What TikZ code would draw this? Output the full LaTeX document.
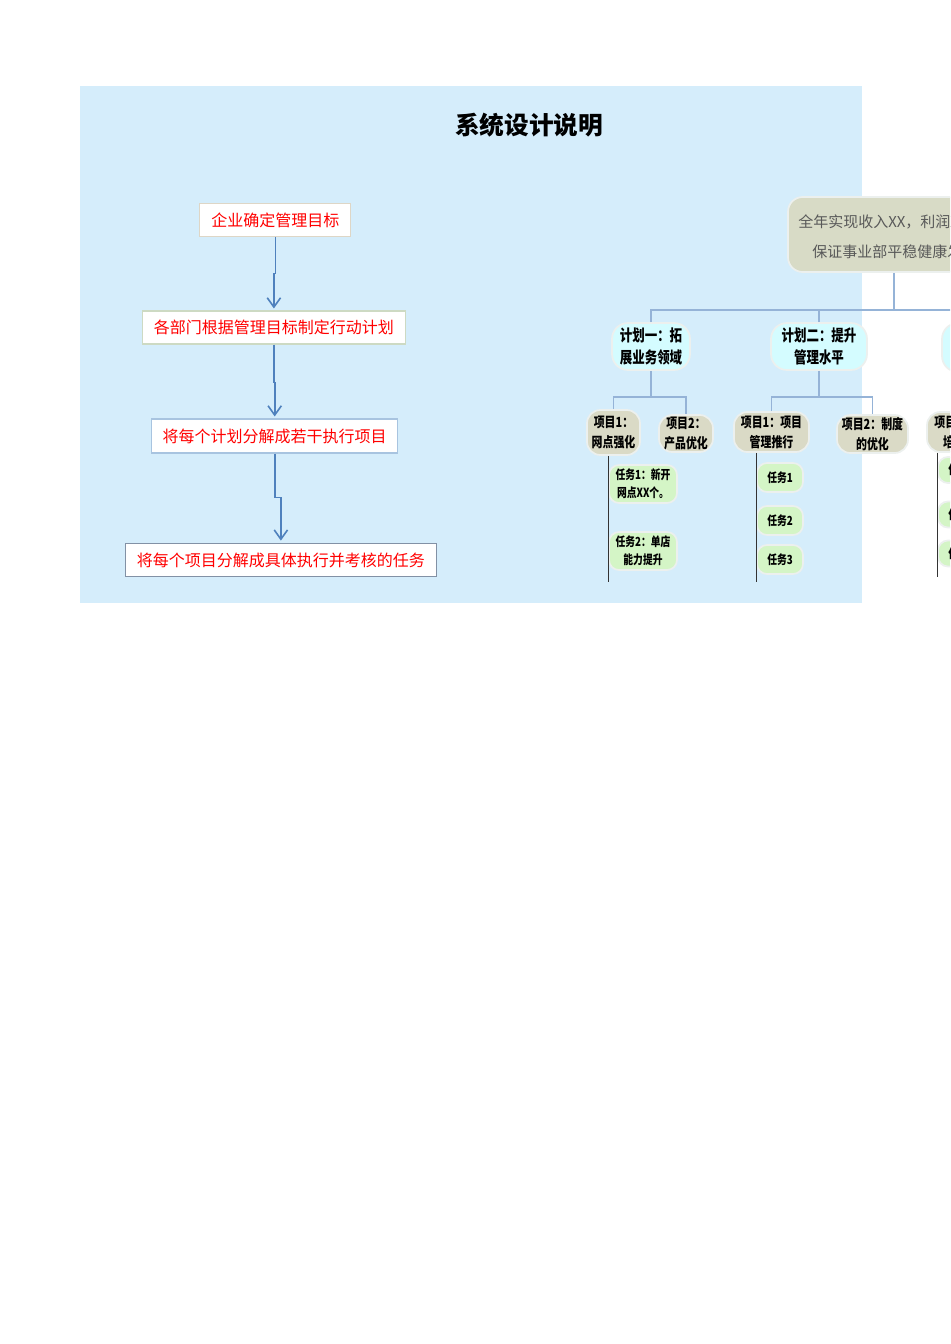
\documentclass[tikz,border=0pt]{standalone}
\usepackage{fontspec}
\setmainfont{Noto Sans CJK SC}
\newfontfamily\cjk{Noto Sans CJK SC}
\newfontfamily\cjkc[FakeStretch=0.78]{Noto Sans CJK SC}
\usetikzlibrary{arrows.meta,calc}
\definecolor{bgblue}{RGB}{213,237,251}
\definecolor{arrblue}{RGB}{79,129,189}
\definecolor{connc}{RGB}{149,179,215}
\definecolor{goalc}{RGB}{216,219,198}
\definecolor{planc}{RGB}{212,252,255}
\definecolor{itemc}{RGB}{218,218,198}
\definecolor{taskc}{RGB}{212,245,198}
\definecolor{haloc}{RGB}{236,240,238}
\definecolor{goaltext}{RGB}{89,89,89}
\definecolor{bordA}{RGB}{222,214,198}
\definecolor{bordB}{RGB}{205,218,195}
\definecolor{bordC}{RGB}{168,196,224}
\definecolor{bordD}{RGB}{130,145,165}
\begin{document}
\begin{tikzpicture}[x=0.75pt,y=-0.75pt,
  sz/.style 2 args={minimum width=#1*0.75pt, minimum height=#2*0.75pt},
  lbox/.style={draw, fill=white, text=red, line width=0.8pt, inner sep=0pt,
    font=\cjk\fontsize{12pt}{14pt}\selectfont},
  arr/.style={draw=arrblue, line width=1.2pt, -{Straight Barb[length=7pt,width=10pt]}, shorten >=1.5pt},
  rnode/.style={draw=haloc, line width=1.3pt, inner sep=0pt, align=center},
  goalbox/.style={rnode, fill=goalc, rounded corners=11pt},
  goaltxt/.style={anchor=west, inner sep=0pt, text=goaltext, font=\cjk\fontsize{11.25pt}{14pt}\selectfont},
  planbox/.style={rnode, fill=planc, rounded corners=12pt, font=\cjkc\bfseries\fontsize{12pt}{17pt}\selectfont},
  itembox/.style={rnode, fill=itemc, rounded corners=10pt, font=\cjkc\bfseries\fontsize{10.5pt}{15pt}\selectfont},
  taskbox/.style={rnode, fill=taskc, rounded corners=7.5pt, font=\cjkc\bfseries\fontsize{9.4pt}{13.5pt}\selectfont},
  conn/.style={draw=connc, line width=0.8pt},
  spine/.style={draw=black!80, line width=0.8pt}
]
\useasboundingbox (0,0) rectangle (950,1344);
\clip (0,0) rectangle (950,1344);
\fill[white] (0,0) rectangle (950,1344);
\fill[bgblue] (80,86) rectangle (862,603);

% title
\node[font=\cjk\bfseries\fontsize{18.5pt}{22pt}\selectfont, inner sep=0pt] (title) at (529,125) {系统设计说明};

% left flow
\node[lbox, draw=bordA, sz={150.7}{33.7}] (b1) at (275.3,219.9) {企业确定管理目标};
\node[lbox, draw=bordB, sz={263.7}{33}] (b2) at (273.9,327.5) {各部门根据管理目标制定行动计划};
\node[lbox, draw=bordC, sz={246}{34}] (b3) at (274.7,436) {将每个计划分解成若干执行项目};
\node[lbox, draw=bordD, sz={310.3}{33.7}] (b4) at (280.9,560) {将每个项目分解成具体执行并考核的任务};

\draw[arr] (b1.south) -- ++(0,36.3) -| (b2.north);
\draw[arr] (b2.south) -- ++(0,38) -| (b3.north);
\draw[arr] (b3.south) -- ++(0,44) -| (b4.north);

% org chart
\coordinate (bus) at (0,310);
\coordinate (busb) at (0,397);
\coordinate (spend) at (0,582);
\coordinate (spend3) at (0,577);

\node[goalbox, sz={212}{75}] (goal) at (894,234.5) {};
\node[goaltxt] (g1) at (798,222) {全年实现收入XX，利润XX，};
\node[goaltxt] (g2) at (812,252) {保证事业部平稳健康发展。};

\node[planbox, sz={78}{47}] (plan1) at (651,346.5) {计划一：拓\\展业务领域};
\node[planbox, sz={96}{47}] (plan2) at (819,346.5) {计划二：提升\\管理水平};
\node[planbox, sz={96}{49}] (plan3) at (990,347.5) {计划三：人才\\队伍建设};

\draw[conn] (goal.south) -- (goal.south |- bus);
\draw[conn] (plan1.north) -- (plan1.north |- bus) -| (plan3.north);
\draw[conn] (plan2.north) -- (plan2.north |- bus);

\node[itembox, sz={53}{45}] (p1a) at (613.5,432.5) {项目1：\\网点强化};
\node[itembox, sz={54}{37}] (p1b) at (686,433.5) {项目2：\\产品优化};
\node[itembox, sz={75}{40}] (p2a) at (771.5,432) {项目1：项目\\管理推行};
\node[itembox, sz={71}{38}] (p2b) at (872.5,434) {项目2：制度\\的优化};
\node[itembox, sz={76}{40}] (p3a) at (965,432) {项目1：人才\\培养计划};

\draw[conn] (plan1.south) -- (plan1.south |- busb);
\draw[conn] (p1a.north) -- (p1a.north |- busb) -| (p1b.north);
\draw[conn] (plan2.south) -- (plan2.south |- busb);
\draw[conn] (p2a.north) -- (p2a.north |- busb) -| (p2b.north);
\draw[conn] (plan3.south) -- (plan3.south |- busb);
\draw[conn] (p3a.north) -- (p3a.north |- busb) -| (plan3.south |- busb);

\node[taskbox, sz={68}{38}] (t11) at (643,484) {任务1：新开\\网点XX个。};
\node[taskbox, sz={68}{38}] (t12) at (643,551) {任务2：单店\\能力提升};
\node[taskbox, sz={46}{29}] (t21) at (780,477.5) {任务1};
\node[taskbox, sz={46}{29}] (t22) at (780,520.5) {任务2};
\node[taskbox, sz={46}{29}] (t23) at (780,559.5) {任务3};
\node[taskbox, sz={46}{26}] (t31) at (961,470) {任务1};
\node[taskbox, sz={46}{26}] (t32) at (961,514.5) {任务2};
\node[taskbox, sz={46}{26}] (t33) at (961,553.5) {任务3};

\draw[spine] (t11.west |- p1a.south) -- (t11.west |- spend);
\draw[spine] (t21.west |- p2a.south) -- (t21.west |- spend);
\draw[spine] (t31.west |- p3a.south) -- (t31.west |- spend3);
\end{tikzpicture}
\end{document}
